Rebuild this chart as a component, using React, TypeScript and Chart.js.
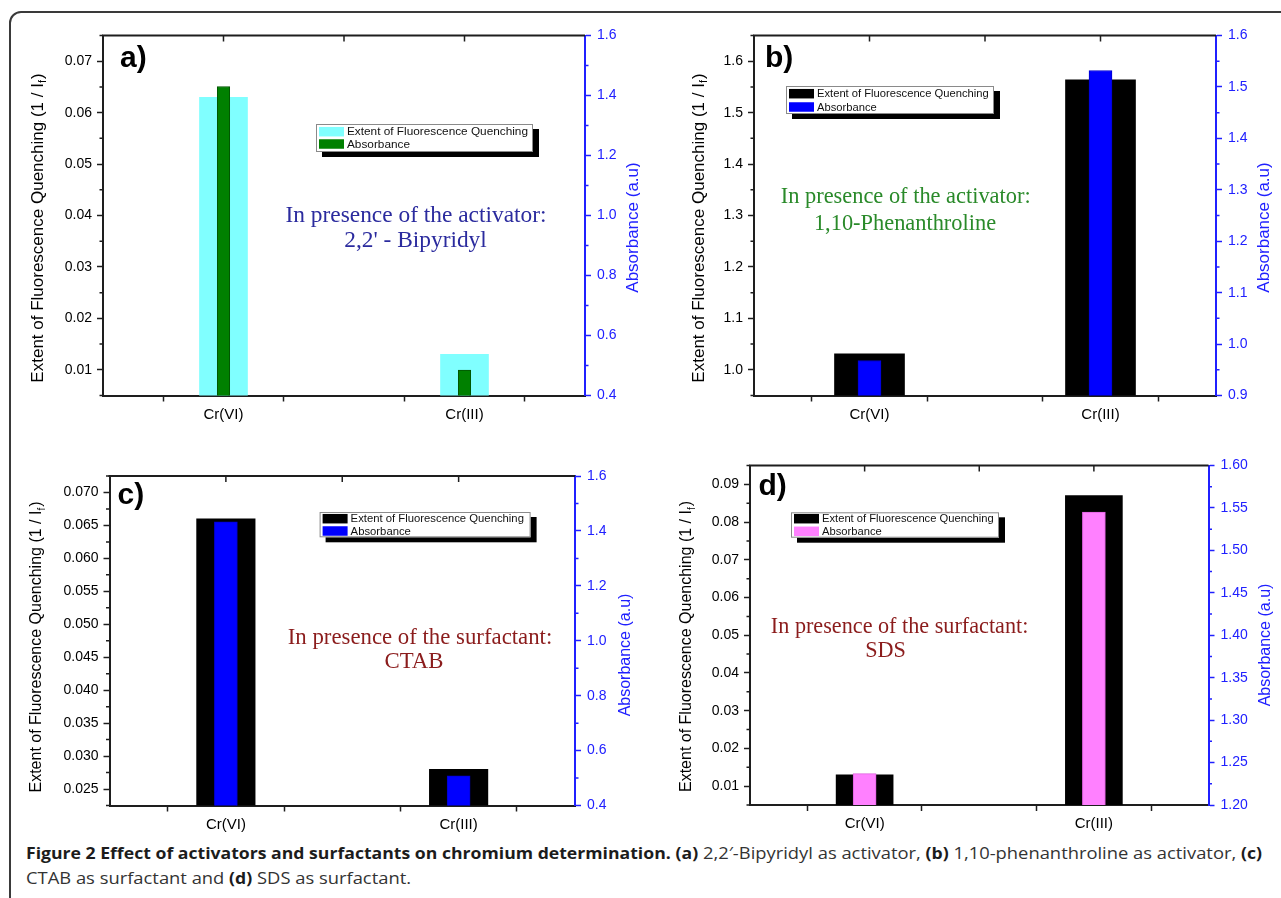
import React, { useEffect, useLayoutEffect, useRef, useState } from 'react';
import { Chart, registerables } from 'chart.js';

Chart.register(...registerables);
Chart.defaults.font.family = '"Liberation Sans", Arial, sans-serif';

// ---------------- data ----------------
const categories = ['Cr(VI)', 'Cr(III)'];
const seriesNames = ['Extent of Fluorescence Quenching', 'Absorbance'];

const quenchA = [0.063, 0.013];
const absorbA = [1.43, 0.485];
const quenchB = [1.031, 1.564];
const absorbB = [0.968, 1.532];
const quenchC = [0.066, 0.028];
const absorbC = [1.433, 0.508];
const quenchD = [0.013, 0.087];
const absorbD = [1.237, 1.545];

const leftTicksA = [0.01, 0.02, 0.03, 0.04, 0.05, 0.06, 0.07];
const rightTicksA = [0.4, 0.6, 0.8, 1.0, 1.2, 1.4, 1.6];
const leftTicksB = [1.0, 1.1, 1.2, 1.3, 1.4, 1.5, 1.6];
const rightTicksB = [0.9, 1.0, 1.1, 1.2, 1.3, 1.4, 1.5, 1.6];
const leftTicksC = [0.025, 0.03, 0.035, 0.04, 0.045, 0.05, 0.055, 0.06, 0.065, 0.07];
const rightTicksC = [0.4, 0.6, 0.8, 1.0, 1.2, 1.4, 1.6];
const leftTicksD = [0.01, 0.02, 0.03, 0.04, 0.05, 0.06, 0.07, 0.08, 0.09];
const rightTicksD = [1.2, 1.25, 1.3, 1.35, 1.4, 1.45, 1.5, 1.55, 1.6];

const notesA = ['In presence of the activator:', "2,2' - Bipyridyl"];
const notesB = ['In presence of the activator:', '1,10-Phenanthroline'];
const notesC = ['In presence of the surfactant:', 'CTAB'];
const notesD = ['In presence of the surfactant:', 'SDS'];
const leftTitleParts = ['Extent of Fluorescence Quenching (1 / I', 'f', ')'];
const rightTitle = 'Absorbance (a.u)';

// ---------------- layout / style ----------------
const AX = '#1e1e1e';
const BLUE = '#2020ff';

type Panel = {
  label: string;
  quench: number[];
  absorb: number[];
  leftTicks: number[];
  rightTicks: number[];
  leftRange: [number, number];
  rightRange: [number, number];
  leftDec: number;
  rightDec: number;
  quenchColor: string;
  absorbColor: string;
  absorbBorder: string;
  wideBar: number;
  narrowBar: number;
  canvas: { x: number; y: number; w: number; h: number };
  area: { l: number; t: number; r: number; b: number };
  labelPos: [number, number];
  legend: [number, number, number, number];
  legendFont: number;
  rowDy: [number, number];
  notes: string[];
  notePos: [number, number][];
  noteColor: string;
  noteSize: number;
  leftTitlePos: [number, number];
  leftTitleSize: number;
  rightTitlePos: [number, number];
  rightTitleSize: number;
};

const panels: Panel[] = [
  {
    label: 'a)', quench: quenchA, absorb: absorbA,
    leftTicks: leftTicksA, rightTicks: rightTicksA,
    leftRange: [0.005, 0.075], rightRange: [0.4, 1.6], leftDec: 2, rightDec: 1,
    quenchColor: '#80ffff', absorbColor: '#008000', absorbBorder: '#005400',
    wideBar: 48, narrowBar: 12.5,
    canvas: { x: 20, y: 20, w: 620, h: 405 },
    area: { l: 103, t: 35.5, r: 585, b: 395.5 },
    labelPos: [120, 67],
    legend: [316, 124, 217, 28], legendFont: 11.8, rowDy: [7.7, 20],
    notes: notesA, notePos: [[416, 221.5], [415.5, 246.5]], noteColor: '#2b2b9e', noteSize: 23.4,
    leftTitlePos: [38, 228], leftTitleSize: 17,
    rightTitlePos: [633.5, 227.5], rightTitleSize: 17,
  },
  {
    label: 'b)', quench: quenchB, absorb: absorbB,
    leftTicks: leftTicksB, rightTicks: rightTicksB,
    leftRange: [0.95, 1.65], rightRange: [0.9, 1.6], leftDec: 1, rightDec: 1,
    quenchColor: '#000000', absorbColor: '#0000ff', absorbBorder: '#0000d0',
    wideBar: 70, narrowBar: 23,
    canvas: { x: 645, y: 20, w: 636, h: 405 },
    area: { l: 754, t: 35.5, r: 1216, b: 395.5 },
    labelPos: [765, 67],
    legend: [786, 86, 208, 28], legendFont: 11.2, rowDy: [7.7, 21],
    notes: notesB, notePos: [[905.7, 203], [905, 230]], noteColor: '#2a8a2a', noteSize: 22.4,
    leftTitlePos: [699, 228], leftTitleSize: 17,
    rightTitlePos: [1264.5, 227.5], rightTitleSize: 17,
  },
  {
    label: 'c)', quench: quenchC, absorb: absorbC,
    leftTicks: leftTicksC, rightTicks: rightTicksC,
    leftRange: [0.0225, 0.0725], rightRange: [0.4, 1.6], leftDec: 3, rightDec: 1,
    quenchColor: '#000000', absorbColor: '#0000ff', absorbBorder: '#0000d0',
    wideBar: 58.5, narrowBar: 23,
    canvas: { x: 15, y: 440, w: 630, h: 395 },
    area: { l: 109.5, t: 476, r: 575, b: 805.5 },
    labelPos: [117.5, 504],
    legend: [319.6, 512, 211, 25.3], legendFont: 11.3, rowDy: [6.7, 19],
    notes: notesC, notePos: [[420, 644], [414, 668]], noteColor: '#8b1c1c', noteSize: 22.8,
    leftTitlePos: [37, 647], leftTitleSize: 16,
    rightTitlePos: [625.5, 655], rightTitleSize: 16,
  },
  {
    label: 'd)', quench: quenchD, absorb: absorbD,
    leftTicks: leftTicksD, rightTicks: rightTicksD,
    leftRange: [0.005, 0.095], rightRange: [1.2, 1.6], leftDec: 2, rightDec: 2,
    quenchColor: '#000000', absorbColor: '#ff80ff', absorbBorder: '#e060e0',
    wideBar: 57, narrowBar: 23,
    canvas: { x: 650, y: 440, w: 631, h: 395 },
    area: { l: 750, t: 465.5, r: 1208.5, b: 805 },
    labelPos: [758.5, 495],
    legend: [791, 512.3, 208, 25.4], legendFont: 11.2, rowDy: [6.4, 19],
    notes: notesD, notePos: [[899.6, 633], [885.5, 657]], noteColor: '#8b1c1c', noteSize: 22.2,
    leftTitlePos: [687, 646.5], leftTitleSize: 16,
    rightTitlePos: [1265.5, 645], rightTitleSize: 16,
  },
];

function minorValues(majors: number[], range: [number, number]) {
  const half = (majors[1] - majors[0]) / 2;
  const out: number[] = [];
  for (let k = -40; k <= 40; k++) {
    const v = majors[0] + half * (2 * k - 1);
    if (v >= range[0] - 1e-9 && v <= range[1] + 1e-9) out.push(v);
  }
  return out;
}

function PanelChart({ p }: { p: Panel }) {
  const ref = useRef<HTMLCanvasElement>(null);
  useEffect(() => {
    const cv = ref.current!;
    const ox = p.canvas.x;
    const oy = p.canvas.y;
    const slots = ['', categories[0], '', categories[1], ''];
    const toSlots = (arr: number[]) => [null, arr[0], null, arr[1], null];

    const decor = {
      id: 'decor',
      afterDraw(chart: any) {
        const ctx: CanvasRenderingContext2D = chart.ctx;
        const X = (v: number) => v - ox;
        const Y = (v: number) => v - oy;
        const { left, right, top } = chart.chartArea;
        const xs = chart.scales.x;
        const ys = chart.scales.y;
        const yr = chart.scales.y1;
        ctx.save();
        // top frame line + inward ticks
        ctx.strokeStyle = AX;
        ctx.lineWidth = 2;
        ctx.beginPath();
        ctx.moveTo(left - 1, top);
        ctx.lineTo(right, top);
        ctx.stroke();
        ctx.lineWidth = 1.5;
        ctx.beginPath();
        for (let i = 1; i < slots.length - 1; i++) {
          const px = xs.getPixelForValue(i);
          ctx.moveTo(px, top);
          ctx.lineTo(px, top + 6);
        }
        ctx.stroke();
        // minor ticks
        ctx.beginPath();
        for (const v of minorValues(p.leftTicks, p.leftRange)) {
          const py = ys.getPixelForValue(v);
          ctx.moveTo(left, py);
          ctx.lineTo(left - 3.5, py);
        }
        ctx.stroke();
        ctx.strokeStyle = BLUE;
        ctx.beginPath();
        for (const v of minorValues(p.rightTicks, p.rightRange)) {
          const py = yr.getPixelForValue(v);
          ctx.moveTo(right, py);
          ctx.lineTo(right + 3.5, py);
        }
        ctx.stroke();

        // panel label
        ctx.fillStyle = '#000';
        ctx.font = 'bold 30px "Liberation Sans", Arial, sans-serif';
        ctx.textAlign = 'left';
        ctx.textBaseline = 'alphabetic';
        ctx.fillText(p.label, X(p.labelPos[0]), Y(p.labelPos[1]));

        // legend
        const [bx, by, bw, bh] = p.legend;
        ctx.fillStyle = '#000';
        ctx.fillRect(X(bx) + 6, Y(by) + 5, bw, bh);
        ctx.fillStyle = '#fff';
        ctx.fillRect(X(bx), Y(by), bw, bh);
        ctx.strokeStyle = '#8a8a8a';
        ctx.lineWidth = 1;
        ctx.strokeRect(X(bx) + 0.5, Y(by) + 0.5, bw - 1, bh - 1);
        const swatches = [p.quenchColor, p.absorbColor];
        ctx.font = `${p.legendFont}px "Liberation Sans", Arial, sans-serif`;
        ctx.textBaseline = 'middle';
        for (let i = 0; i < 2; i++) {
          const cy = Y(by) + p.rowDy[i];
          ctx.fillStyle = swatches[i];
          ctx.fillRect(X(bx) + 3, cy - 4.75, 25, 9.5);
          ctx.fillStyle = '#111';
          ctx.fillText(seriesNames[i], X(bx) + 31, cy + 0.5);
        }

        // annotation
        ctx.fillStyle = p.noteColor;
        ctx.font = `${p.noteSize}px "Liberation Serif", "Times New Roman", serif`;
        ctx.textAlign = 'center';
        ctx.textBaseline = 'alphabetic';
        p.notes.forEach((t, i) => ctx.fillText(t, X(p.notePos[i][0]), Y(p.notePos[i][1])));

        // left axis title with subscript
        ctx.save();
        ctx.translate(X(p.leftTitlePos[0]), Y(p.leftTitlePos[1]));
        ctx.rotate(-Math.PI / 2);
        ctx.fillStyle = '#000';
        ctx.textAlign = 'left';
        ctx.textBaseline = 'middle';
        const s = p.leftTitleSize;
        const mainFont = `${s}px "Liberation Sans", Arial, sans-serif`;
        const subFont = `${Math.round(s * 0.65)}px "Liberation Sans", Arial, sans-serif`;
        ctx.font = mainFont;
        const w1 = ctx.measureText(leftTitleParts[0]).width;
        const w3 = ctx.measureText(leftTitleParts[2]).width;
        ctx.font = subFont;
        const w2 = ctx.measureText(leftTitleParts[1]).width + 1;
        const x0 = -(w1 + w2 + w3) / 2;
        ctx.font = mainFont;
        ctx.fillText(leftTitleParts[0], x0, 0);
        ctx.font = subFont;
        ctx.fillText(leftTitleParts[1], x0 + w1, s * 0.32);
        ctx.font = mainFont;
        ctx.fillText(leftTitleParts[2], x0 + w1 + w2, 0);
        ctx.restore();

        // right axis title
        ctx.save();
        ctx.translate(X(p.rightTitlePos[0]), Y(p.rightTitlePos[1]));
        ctx.rotate(-Math.PI / 2);
        ctx.fillStyle = BLUE;
        ctx.textAlign = 'center';
        ctx.textBaseline = 'middle';
        ctx.font = `${p.rightTitleSize}px "Liberation Sans", Arial, sans-serif`;
        ctx.fillText(rightTitle, 0, 0);
        ctx.restore();

        ctx.restore();
      },
    };

    const chart = new Chart(cv, {
      type: 'bar',
      data: {
        labels: slots,
        datasets: [
          {
            label: seriesNames[0],
            data: toSlots(p.quench),
            yAxisID: 'y',
            backgroundColor: p.quenchColor,
            borderWidth: 0,
            barThickness: p.wideBar,
            grouped: false,
            order: 2,
          } as any,
          {
            label: seriesNames[1],
            data: toSlots(p.absorb),
            yAxisID: 'y1',
            backgroundColor: p.absorbColor,
            borderColor: p.absorbBorder,
            borderWidth: 1,
            barThickness: p.narrowBar,
            grouped: false,
            order: 1,
          } as any,
        ],
      },
      options: {
        animation: false,
        responsive: false,
        devicePixelRatio: 1,
        layout: { padding: { top: p.area.t - oy, left: 0, right: 0, bottom: 0 } },
        plugins: { legend: { display: false }, tooltip: { enabled: false } },
        scales: {
          x: {
            type: 'category',
            offset: false,
            grid: { drawOnChartArea: false, tickLength: 6, tickWidth: 1.5, tickColor: AX },
            border: { color: AX, width: 2 },
            ticks: { autoSkip: false, maxRotation: 0, padding: 4, color: '#000', font: { size: 15 } },
            afterFit: (sc: any) => { sc.height = oy + p.canvas.h - p.area.b; },
          },
          y: {
            type: 'linear',
            position: 'left',
            min: p.leftRange[0],
            max: p.leftRange[1],
            bounds: 'data',
            afterBuildTicks: (sc: any) => { sc.ticks = p.leftTicks.map((v) => ({ value: v })); },
            ticks: {
              autoSkip: false,
              padding: 5,
              color: '#000',
              font: { size: 14 },
              callback: (v: any) => Number(v).toFixed(p.leftDec),
            },
            grid: { drawOnChartArea: false, tickLength: 6, tickWidth: 1.5, tickColor: AX },
            border: { color: AX, width: 2 },
            afterFit: (sc: any) => { sc.width = p.area.l - ox; },
          },
          y1: {
            type: 'linear',
            position: 'right',
            min: p.rightRange[0],
            max: p.rightRange[1],
            bounds: 'data',
            afterBuildTicks: (sc: any) => { sc.ticks = p.rightTicks.map((v) => ({ value: v })); },
            ticks: {
              autoSkip: false,
              padding: 6,
              color: BLUE,
              font: { size: 14 },
              callback: (v: any) => Number(v).toFixed(p.rightDec),
            },
            grid: { drawOnChartArea: false, tickLength: 6, tickWidth: 1.5, tickColor: BLUE },
            border: { color: BLUE, width: 2 },
            afterFit: (sc: any) => { sc.width = ox + p.canvas.w - p.area.r; },
          },
        },
      } as any,
      plugins: [decor],
    });
    return () => chart.destroy();
  }, [p]);
  return (
    <canvas
      ref={ref}
      width={p.canvas.w}
      height={p.canvas.h}
      style={{ position: 'absolute', left: p.canvas.x, top: p.canvas.y, width: p.canvas.w, height: p.canvas.h }}
    />
  );
}

const CAPTION_LINE1_WIDTH = 1236;

function Caption() {
  const lineRef = useRef<HTMLSpanElement>(null);
  const [sx, setSx] = useState(1);
  useLayoutEffect(() => {
    const fit = () => {
      const w = lineRef.current ? lineRef.current.offsetWidth : 0;
      if (w > 0) setSx(CAPTION_LINE1_WIDTH / w);
    };
    fit();
    const fonts = (document as any).fonts;
    if (fonts && fonts.ready) fonts.ready.then(fit);
  }, []);
  const bold: React.CSSProperties = { fontWeight: 700, color: '#1c1c1c', fontSize: 16.5 };
  return (
    <div
      style={{
        position: 'absolute',
        left: 26,
        top: 839.5,
        whiteSpace: 'nowrap',
        fontFamily: '"Open Sans", "Noto Sans", sans-serif',
        fontSize: 17.2,
        lineHeight: '25px',
        color: '#333',
        transformOrigin: '0 0',
        transform: `scaleX(${sx})`,
      }}
    >
      <span ref={lineRef} style={{ display: 'inline-block' }}>
        <span style={bold}>Figure 2 Effect of activators and surfactants on chromium determination.</span>{' '}
        <span style={bold}>(a)</span> 2,2′-Bipyridyl as activator, <span style={bold}>(b)</span> 1,10-phenanthroline as
        activator, <span style={bold}>(c)</span>
      </span>
      <br />
      <span>
        CTAB as surfactant and <span style={bold}>(d)</span> SDS as surfactant.
      </span>
    </div>
  );
}

export default function App() {
  return (
    <div
      style={{
        position: 'absolute',
        left: 0,
        top: 0,
        width: 1281,
        height: 898,
        overflow: 'hidden',
        background: '#fff',
      }}
    >
      <div
        style={{
          position: 'absolute',
          left: 9,
          top: 11,
          width: 1300,
          height: 920,
          boxSizing: 'border-box',
          border: '2px solid #3a3a3a',
          borderRadius: 12,
        }}
      />
      {panels.map((p) => (
        <PanelChart key={p.label} p={p} />
      ))}
      <Caption />
    </div>
  );
}
